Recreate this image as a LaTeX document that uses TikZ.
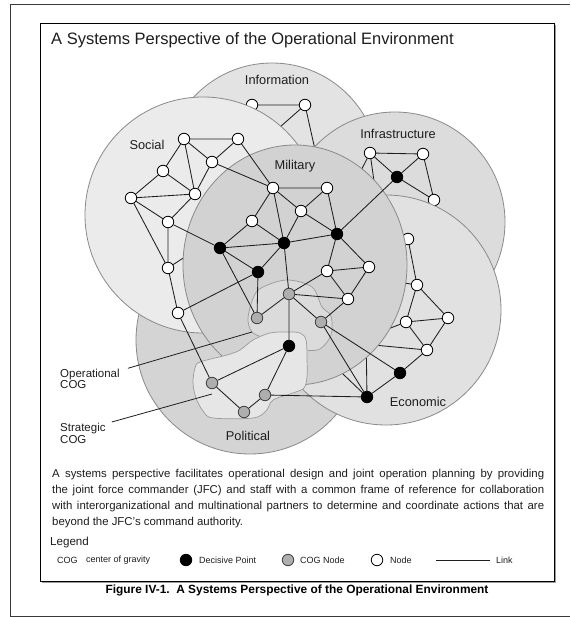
\documentclass[tikz,border=0pt]{standalone}
\usepackage{fontspec}
\setmainfont{Liberation Sans}
\definecolor{ringc}{HTML}{8A8A8A}
\definecolor{infoF}{HTML}{E3E3E3}
\definecolor{socF}{HTML}{EBEBEB}
\definecolor{infraF}{HTML}{DCDCDC}
\definecolor{econF}{HTML}{E1E1E1}
\definecolor{polF}{HTML}{D4D4D4}
\definecolor{milF}{HTML}{D2D2D2}
\definecolor{opF}{HTML}{DBDBDB}
\definecolor{stF}{HTML}{E6E6E6}
\definecolor{blobC}{HTML}{9A9A9A}
\definecolor{cogF}{HTML}{AEAEAE}
\definecolor{inkC}{HTML}{1E1E1E}
\definecolor{frameC}{HTML}{3A3A3A}
\definecolor{shadeC}{HTML}{9C9C9C}
\begin{document}
\begin{tikzpicture}[x=1pt,y=-1pt,
  ring/.style={draw=ringc,line width=0.8pt},
  lk/.style={draw=inkC,line width=0.85pt},
  wn/.style={circle,draw=black,line width=0.8pt,fill=white,inner sep=0pt,minimum size=11.5pt},
  bn/.style={wn,fill=black},
  gn/.style={wn,fill=cogF,draw=black!75},
  rl/.style={font=\fontsize{12.8}{14}\selectfont,text=inkC,inner sep=0pt,text height=9.2pt,text depth=0pt},
  blob/.style={draw=blobC,line width=0.7pt},
  bodytxt/.style={anchor=base west,inner sep=0pt,text=inkC,font=\fontsize{11.4}{13}\selectfont},
  legtxt/.style={anchor=west,inner sep=0pt,text=inkC,font=\fontsize{9}{10}\selectfont},
  cogtxt/.style={anchor=west,inner sep=0pt,text=inkC,align=left,font=\fontsize{11.5}{11.8}\selectfont},
]
\useasboundingbox (0,0) rectangle (570,617);
\fill[white] (0,0) rectangle (570,617);

% page frame and figure box
\draw[frameC,line width=1pt] (570,5) -- (10,5) -- (10,616) -- (570,616);
\fill[shadeC] (42,25) rectangle (556,583);
\draw[black,line width=0.9pt,fill=white] (40,23) rectangle (554,581);

% ---- Information
\draw[ring,fill=infoF] (272,170) circle[radius=107pt];
\node[wn] (I1) at (252,105) {};
\node[wn] (I2) at (305,105) {};
\node[wn] (I3) at (263,142) {};
\node[wn] (I4) at (320,172) {};
\draw[lk] (I1) -- (I2) (I2) -- (I3) (I2) -- (I4) (I1) -- (I3);

% ---- Infrastructure
\draw[ring,fill=infraF] (395,222) circle[radius=110pt];
\node[wn] (R1) at (370,153) {};
\node[wn] (R2) at (423,154) {};
\node[bn] (R0) at (397,177) {};
\node[wn] (R3) at (434,200) {};
\node[wn] (RH1) at (352,188) {};
\node[wn] (RH2) at (377,202) {};
\draw[lk] (R1) -- (R2) (R1) -- (R0) (R2) -- (R0) (R2) -- (R3) (R0) -- (R3)
  (R1) -- (RH1) (R1) -- (RH2);

% ---- Political
\draw[ring,fill=polF] (250,340) circle[radius=114pt];

% ---- Economic
\draw[ring,fill=econF] (386,310) circle[radius=115pt];
\node[wn] (E1) at (408,239) {};
\node[wn] (E2) at (417,285) {};
\node[wn] (E3) at (448,318) {};
\node[wn] (E4) at (406,322) {};
\node[wn] (E5) at (427,350) {};
\node[bn] (D7) at (400,373) {};
\node[bn] (D6) at (367,397) {};
\node[wn] (EH1) at (352,343) {};
\node[wn] (EH2) at (366,332) {};
\node[wn] (EH3) at (320,352) {};
\node[wn] (EH4) at (385,280) {};
\draw[lk] (E1) -- (E2) (E2) -- (E3) (E2) -- (E4) (E3) -- (E4) (E3) -- (E5)
  (E4) -- (E5) (E5) -- (D7) (D7) -- (D6) (E5) -- (EH1) (E4) -- (EH1)
  (D6) -- (EH2) (D6) -- (EH3) (E2) -- (EH4);

% ---- Social
\draw[ring,fill=socF] (203,215) circle[radius=118pt];
\node[wn] (S1) at (184,139) {};
\node[wn] (S2) at (238,139) {};
\node[wn] (S3) at (212,162) {};
\node[wn] (S4) at (163,171) {};
\node[wn] (S5) at (195,194) {};
\node[wn] (S6) at (131,198) {};
\node[wn] (S7) at (168,222) {};
\node[wn] (S8) at (168,268) {};
\node[wn] (S9) at (178,313) {};
\node[wn] (SH1) at (200,247) {};
\draw[lk] (S1) -- (S2) (S1) -- (S3) (S1) -- (S4) (S1) -- (S5) (S2) -- (S3)
  (S3) -- (S5) (S4) -- (S5) (S4) -- (S6) (S5) -- (S6) (S5) -- (S7)
  (S6) -- (S7) (S6) -- (S8) (S7) -- (S8) (S8) -- (S9) (S8) -- (SH1);

% ---- Military
\draw[ring,fill=milF] (295,265) ellipse[x radius=112pt,y radius=120pt];

% centres of gravity
\draw[blob,fill=opF] plot[smooth cycle,tension=0.55] coordinates {
  (254,296) (263,287) (287,280) (312,287) (322,307) (331,316) (331,335)
  (320,349) (305,350) (290,345) (265,338) (252,332) (248,318)};
\draw[blob,fill=stF] plot[smooth cycle,tension=0.55] coordinates {
  (200,362) (227,355) (240,350) (253,340) (270,333) (287,332) (300,333)
  (306,340) (307,360) (307,377) (304,388) (293,393) (273,400) (266,411)
  (253,418) (213,418) (203,411) (196,398) (193,383) (195,368)};

% military and political nodes
\node[wn] (M1) at (273,188) {};
\node[wn] (M2) at (327,188) {};
\node[wn] (M3) at (301,211) {};
\node[wn] (M4) at (252,221) {};
\node[bn] (D1) at (220,248) {};
\node[bn] (D2) at (284,243) {};
\node[bn] (D3) at (258,272) {};
\node[bn] (D4) at (337,234) {};
\node[wn] (M5) at (327,271) {};
\node[wn] (M6) at (369,267) {};
\node[wn] (M7) at (348,299) {};
\node[gn] (G1) at (289,294) {};
\node[gn] (G2) at (257,318) {};
\node[gn] (G3) at (321,322) {};
\node[bn] (D5) at (289,346) {};
\node[gn] (P1) at (212,383) {};
\node[gn] (P2) at (265,395) {};
\node[gn] (P3) at (244,412) {};

\draw[lk] (M1) -- (M2) (M1) -- (M3) (M1) -- (M4) (M1) -- (D2) (M2) -- (M3)
  (M2) -- (D4) (M3) -- (D4) (M3) -- (D2) (M4) -- (D1) (M4) -- (D2)
  (D1) -- (D2) (D2) -- (D4) (D1) -- (D3) (D2) -- (D3) (D1) -- (G2)
  (D3) -- (G2) (D2) -- (G1) (D4) -- (M5) (D4) -- (M6) (M5) -- (M6)
  (M5) -- (M7) (M6) -- (M7) (M5) -- (G1) (G1) -- (M7) (G1) -- (G2)
  (G1) -- (G3) (G1) -- (D5) (M7) -- (G3) (G3) -- (D6) (G3) -- (D7)
  (D5) -- (P1) (D5) -- (P2) (P1) -- (P3) (P3) -- (P2) (P2) -- (D6)
  (S9) -- (P1) (S9) -- (D3) (S2) -- (M1) (S3) -- (M1) (S7) -- (D1)
  (R0) -- (D4);

% region names
\node[rl] (lInfo) at (277,80) {Information};
\node[rl] (lSoc) at (147,145) {Social};
\node[rl] (lMil) at (295,165) {Military};
\node[rl] (lInf) at (398,134) {Infrastructure};
\node[rl] (lEco) at (418,402) {Economic};
\node[rl] (lPol) at (248,436) {Political};

% centre of gravity call-outs
\node[cogtxt] (opLbl) at (60,378.8) {Operational\\COG};
\node[cogtxt] (stLbl) at (60,433) {Strategic\\COG};
\coordinate (opEnd) at (252,332);
\coordinate (stEnd) at (212,394);
\draw[inkC,line width=0.8pt] ([xshift=8pt,yshift=10.5pt]opLbl.east) -- (opEnd);
\draw[inkC,line width=0.8pt] ([xshift=6pt,yshift=11pt]stLbl.east) -- (stEnd);

% title
\node[anchor=base west,inner sep=0pt,text=inkC,font=\fontsize{16.5}{18}\selectfont] (ttl) at (51,45)
  {A Systems Perspective of the Operational Environment};

% description
\node[bodytxt] (tx1) at (52,477) {\makebox[492pt][s]{A systems perspective facilitates operational design and joint operation planning by providing}};
\node[bodytxt] (tx2) at (52,493) {\makebox[492pt][s]{the joint force commander (JFC) and staff with a common frame of reference for collaboration}};
\node[bodytxt] (tx3) at (52,509) {\makebox[492pt][s]{with interorganizational and multinational partners to determine and coordinate actions that are}};
\node[bodytxt] (tx4) at (52,525) {beyond the JFC’s command authority.};

% legend
\node[anchor=base west,inner sep=0pt,text=inkC,font=\fontsize{11.6}{13}\selectfont] (lgd) at (50,545) {Legend};
\node[legtxt] (lgCOG) at (57,560) {COG};
\node[legtxt] (lgCOGt) at (86,560) {center of gravity};
\node[bn] (lgDP) at (186,560) {};
\node[legtxt] (lgDPt) at (199,560) {Decisive Point};
\node[gn] (lgCN) at (288,560) {};
\node[legtxt] (lgCNt) at (300,560) {COG Node};
\node[wn] (lgN) at (377,560) {};
\node[legtxt] (lgNt) at (390,560) {Node};
\coordinate (lgL1) at (436,560);
\coordinate (lgL2) at (490,560);
\draw[lk] (lgL1) -- (lgL2);
\node[legtxt] (lgLt) at (496,560) {Link};

% caption
\node[anchor=base,inner sep=0pt,text=black,font=\bfseries\fontsize{11.9}{13}\selectfont] (cap) at (297,593)
  {Figure IV-1.\ \ A Systems Perspective of the Operational Environment};
\end{tikzpicture}
\end{document}
